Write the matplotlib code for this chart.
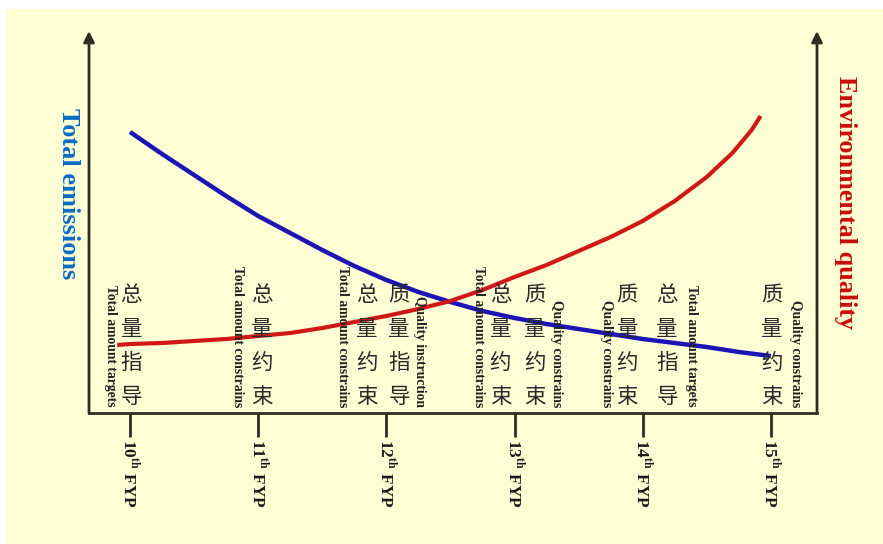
"""Total emissions vs environmental quality across the Five-Year Plans."""

import matplotlib
matplotlib.use('Agg')
import numpy as np
from matplotlib import pyplot as plt
from matplotlib.patches import Rectangle

plt.rcParams['mathtext.fontset'] = 'stix'

# plan periods (x axis)
fyp = ['10', '11', '12', '13', '14', '15']

# blue curve: total emissions
blue_x = [0, 0.25, 0.5, 0.75, 1, 1.25, 1.5, 1.75, 2, 2.25, 2.5,
          2.75, 3, 3.25, 3.5, 3.75, 4, 4.25, 4.5, 4.75, 5]
blue_y = [281, 259, 238, 217, 197, 180, 163, 147, 133, 121, 111,
          102, 95, 89, 84, 79, 74, 70, 66, 61, 57]

# red curve: environmental quality
red_x = [-0.1, 0, 0.25, 0.5, 0.75, 1, 1.25, 1.5, 1.75, 2, 2.25, 2.5,
         2.75, 3, 3.25, 3.5, 3.75, 4, 4.25, 4.5, 4.7, 4.85, 4.92]
red_y = [68, 69, 70, 72, 74, 77, 80, 85, 91, 97, 104, 112,
         123, 136, 148, 162, 176, 192, 212, 236, 260, 283, 297]

# text stacks standing above each plan
col_labels = [
    ['Total amount targets', '总量指导'],
    ['Total amount constrains', '总量约束'],
    ['Total amount constrains', '总量约束', '质量指导', 'Quality instruction'],
    ['Total amount constrains', '总量约束', '质量约束', 'Quality constrains'],
    ['Quality constrains', '质量约束', '总量指导', 'Total amount targets'],
    ['质量约束', 'Quality constrains'],
]
col_offsets = [[-0.156, 0.01], [-0.165, 0.03], [-0.34, -0.15, 0.1, 0.26],
               [-0.28, -0.11, 0.16, 0.33], [-0.28, -0.12, 0.19, 0.38],
               [0.01, 0.19]]

bg = '#ffffd6'
axcol = '#2e2e22'
serif = ['Liberation Serif', 'DejaVu Serif']
cjk = ['Noto Sans CJK SC', 'DejaVu Sans']

fig = plt.figure(figsize=(8.83, 5.44), dpi=100, facecolor='white')
fig.patches.append(Rectangle((7 / 883, 0), 1, 535 / 544, transform=fig.transFigure,
                             facecolor=bg, edgecolor='none', zorder=-10))
ax = fig.add_axes([89 / 883, 131 / 544, (817 - 89) / 883, (413 - 31) / 544])
ax.set_facecolor('none')
ax.set_xlim(-0.32, 5.36)
ax.set_ylim(0, 382)

ax.plot(blue_x, blue_y, color='#1c14b4', lw=3.2, solid_capstyle='butt',
        solid_joinstyle='round')
ax.plot(red_x, red_y, color='#d01818', lw=3.0, solid_capstyle='butt',
        solid_joinstyle='round')

for ii, (labels, offs) in enumerate(zip(col_labels, col_offsets)):
    for txt, off in zip(labels, offs):
        if any(ord(c) > 127 for c in txt):
            ax.text(ii + off, 5, '\n'.join(txt), ha='center', va='bottom',
                    family=cjk, fontsize=15.5, linespacing=1.7, color='#2a2a2a')
        else:
            ax.text(ii + off, 6, txt, rotation=-90, ha='center', va='bottom',
                    family=serif, fontweight='bold', fontsize=9.8, color='#222222')

# axes: left/right arrows, bottom line
for side in ['top', 'left', 'right']:
    ax.spines[side].set_visible(False)
ax.spines['bottom'].set_color(axcol)
ax.spines['bottom'].set_linewidth(2)
for xx in [-0.32, 5.36]:
    ax.annotate('', xy=(xx, 382), xytext=(xx, 0), xycoords='data',
                arrowprops=dict(arrowstyle='-|>', color=axcol, lw=2,
                                mutation_scale=16, shrinkA=0, shrinkB=0),
                annotation_clip=False)
ax.set_yticks([])
ax.set_xticks(range(len(fyp)))
ax.set_xticklabels(['%s$^{\\mathbf{th}}$ FYP' % f for f in fyp], rotation=-90,
                   family=serif, fontweight='bold', fontsize=12.5, color='#1a1a1a')
ax.tick_params(axis='x', length=17, width=2, color=axcol, pad=2)

fig.text(68 / 883, 1 - 194 / 544, 'Total emissions', rotation=-90, ha='center', va='center',
         family=serif, fontweight='bold', fontsize=19, color='#0a6cc4')
fig.text(846 / 883, 1 - 203 / 544, 'Environmental quality', rotation=-90, ha='center',
         va='center', family=serif, fontweight='bold', fontsize=18.8, color='#c80c0c')

fig.savefig('out.png', dpi=100, facecolor=fig.get_facecolor())
